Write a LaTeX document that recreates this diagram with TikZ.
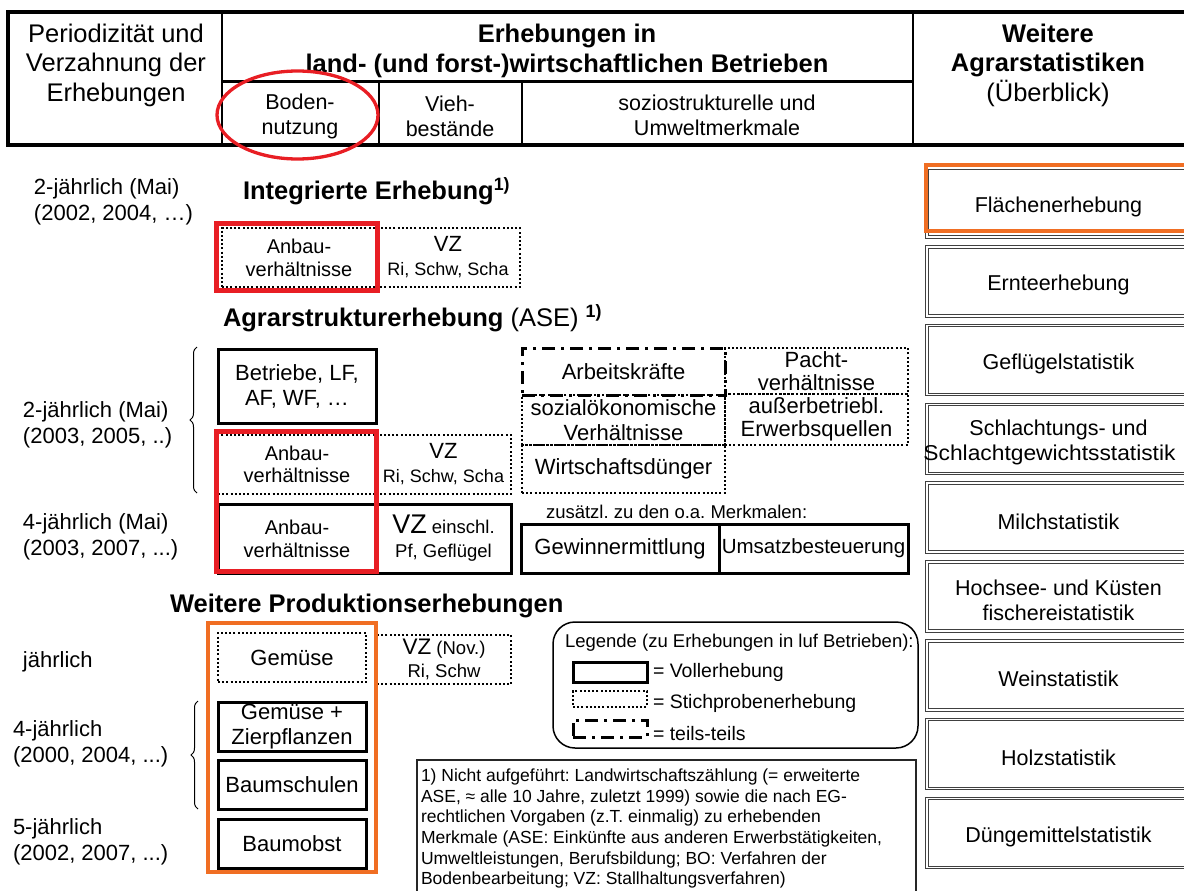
\documentclass[tikz,border=0pt]{standalone}
\usepackage{fontspec}
\setmainfont{Liberation Sans}
\usetikzlibrary{shapes.geometric, decorations.pathreplacing}
\definecolor{markred}{RGB}{232,30,36}
\definecolor{markorange}{RGB}{240,110,35}
\newcommand\fs[2]{\fontsize{#1pt}{#2pt}\selectfont}
\frenchspacing

\begin{document}
\begin{tikzpicture}[x=1pt, y=-1pt,
  every node/.style={inner sep=0pt, outer sep=0pt, align=center},
  txt/.style={font=\fs{21.5}{25}},
  heading/.style={anchor=west, font=\fs{25.5}{29}\bfseries},
  periodlabel/.style={anchor=west, align=left, font=\fs{22}{26}},
  fullbox/.style={draw, line width=3pt, txt},
  samplebox/.style={draw, line width=2.3pt, dash pattern=on 2pt off 2.2pt, txt},
  mixbox/.style={draw, line width=3pt, dash pattern=on 13pt off 6pt on 3pt off 6pt, txt},
  redframe/.style={draw=markred, line width=5pt},
  orangeframe/.style={draw=markorange, line width=3.5pt},
  statbox/.style={draw=black!75, double=white, double distance=1.6pt, line width=1pt,
                  minimum width=263pt, minimum height=69pt},
  stattext/.style={txt, yshift=-4pt},
  legtext/.style={anchor=west, font=\fs{19.5}{22}},
  bracket/.style={decorate, decoration={brace, amplitude=7pt}, line width=1pt},
  sz/.style 2 args={minimum width=#1pt, minimum height=#2pt},
]
\useasboundingbox (0,0) rectangle (1184,891);
\clip (0,0) rectangle (1184,891);

% ---------- table head ----------
\draw[line width=3.5pt] (8,12) rectangle (1190,145);
\draw[line width=2pt] (222,12) -- (222,145) (913,12) -- (913,145);
\draw[line width=3pt] (222,82) -- (913,82);
\draw[line width=1.5pt] (379,82) -- (379,145) (522,82) -- (522,145);

\node[font=\fs{25.5}{29.5}] (hperiod) at (116,65) {Periodizität und\\Verzahnung der\\Erhebungen};
\node[font=\fs{25.5}{30}\bfseries] (hsurvey) at (567,51) {Erhebungen in\\land- (und forst-)wirtschaftlichen Betrieben};
\node[font=\fs{25.5}{29.5}] (hother) at (1048,65) {\textbf{Weitere}\\\textbf{Agrarstatistiken}\\(Überblick)};
\node[txt] (hland) at (300,116) {Boden-\\nutzung};
\node[txt] (hlive) at (450,116) {Vieh-\\bestände};
\node[txt] (hsocio) at (717,115) {soziostrukturelle und\\Umweltmerkmale};
\node[draw=markred, line width=3.3pt, ellipse, sz={161}{88}] (hring) at (297.5,115) {};

% ---------- integrated survey ----------
\node[periodlabel] (p1) at (34,202) {2-jährlich (Mai)\\(2002, 2004, …)};
\node[heading] (hint) at (243,191) {Integrierte Erhebung\textsuperscript{1)}};
\node[samplebox, sz={154}{59}, font=\fs{20}{23}] (intland) at (299,257.5) {Anbau-\\verhältnisse};
\node[samplebox, sz={144}{59}, font=\fs{18}{24}] (intlive) at (448,257.5) {{\fs{22}{24}VZ}\\Ri, Schw, Scha};
\node[redframe, sz={161}{67}] (intmark) at (296.5,256.5) {};

% ---------- farm structure survey ----------
\node[heading] (hase) at (223,318) {Agrarstrukturerhebung \mdseries(ASE) \textsuperscript{\bfseries 1)}};
\draw[bracket] (197,493) -- (197,347);
\node[periodlabel] (p2) at (23,425) {2-jährlich (Mai)\\(2003, 2005, ..)};
\node[fullbox, sz={158}{74}, font=\fs{22}{25}] (farms) at (297,386) {Betriebe, LF,\\AF, WF, …};
\node[samplebox, sz={183}{46}, font=\fs{22}{23}] (lease) at (816.5,371) {Pacht-\\verhältnisse};
\node[samplebox, sz={203}{50}, font=\fs{22}{25}] (socio) at (623.5,420) {sozialökonomische\\Verhältnisse};
\node[samplebox, sz={183}{51}, font=\fs{22}{23}] (offfarm) at (816.5,419.5) {außerbetriebl.\\Erwerbsquellen};
\node[samplebox, sz={203}{48}, font=\fs{22}{25}] (manure) at (623.5,469) {Wirtschaftsdünger};
\node[mixbox, sz={203}{47}, font=\fs{22}{25}] (labour) at (623.5,371.5) {Arbeitskräfte};

\node[samplebox, sz={158}{59}, font=\fs{20}{22}] (aseland) at (297,464.5) {Anbau-\\verhältnisse};
\node[samplebox, sz={135}{59}, font=\fs{18}{24}] (aselive) at (443.5,464.5) {{\fs{22}{24}VZ}\\Ri, Schw, Scha};
\node[periodlabel] (p3) at (23,537) {4-jährlich (Mai)\\(2003, 2007, ...)};
\node[fullbox, sz={158}{69}, font=\fs{20}{23}] (fourland) at (297,538.5) {Anbau-\\verhältnisse};
\node[fullbox, sz={135}{69}, font=\fs{18.5}{24}] (fourlive) at (443.5,538.5) {{\fs{27}{24}VZ} einschl.\\Pf, Geflügel};
\node[redframe, sz={160}{140}] (asemark) at (296,501) {};

\node[anchor=west, font=\fs{18.5}{22}] (extra) at (546,512) {zusätzl. zu den o.a. Merkmalen:};
\node[fullbox, sz={198}{49}, font=\fs{22}{25}] (profit) at (620,548.5) {Gewinnermittlung};
\node[fullbox, sz={189}{49}, font=\fs{20.5}{25}] (vat) at (813.5,548.5) {Umsatzbesteuerung};

% ---------- further production surveys ----------
\node[heading] (hprod) at (170,606) {Weitere Produktionserhebungen};
\node[periodlabel] (p4) at (23,662) {jährlich};
\node[samplebox, sz={148}{49}, font=\fs{22}{25}] (veg) at (292,657.5) {Gemüse};
\node[samplebox, sz={134}{49}, font=\fs{18.5}{23}] (pigs) at (444,659.5) {{\fs{22.5}{23}VZ} (Nov.)\\Ri, Schw};
\node[periodlabel] (p5) at (13,744) {4-jährlich\\(2000, 2004, ...)};
\node[fullbox, sz={148}{49}, font=\fs{22}{25}] (vegorn) at (292,727) {Gemüse +\\Zierpflanzen};
\node[fullbox, sz={148}{49}, font=\fs{22}{25}] (nursery) at (292,784.5) {Baumschulen};
\draw[bracket] (198,809) -- (198,701);
\node[periodlabel] (p6) at (13,842) {5-jährlich\\(2002, 2007, ...)};
\node[fullbox, sz={148}{49}, font=\fs{22}{25}] (orchard) at (292,843.5) {Baumobst};
\node[orangeframe, sz={168}{249}] (prodmark) at (292,747.5) {};

% ---------- legend ----------
\node[draw, line width=1.5pt, rounded corners=22pt, sz={365}{126}] (legend) at (735.5,685) {};
\node[anchor=west, font=\fs{18.5}{22}] (legtitle) at (565,643) {Legende (zu Erhebungen in luf Betrieben):};
\node[fullbox, sz={74}{20}] (legfull) at (610,672) {};
\node[samplebox, line width=2pt, sz={74}{16}] (legsample) at (610,699) {};
\node[mixbox, sz={74}{17}] (legmix) at (610,728.5) {};
\node[legtext] (legfulltxt) at (653,672) {= Vollerhebung};
\node[legtext] (legsampletxt) at (653,703) {= Stichprobenerhebung};
\node[legtext] (legmixtxt) at (653,734) {= teils-teils};

% ---------- footnote ----------
\node[draw=black!85, line width=1.3pt, sz={499}{133}] (notebox) at (666.5,826.5) {};
\node[anchor=north west, align=left, font=\fs{17.5}{20.6}] (note) at (421,769) {1) Nicht aufgeführt: Landwirtschaftszählung (= erweiterte\\ASE, ≈ alle 10 Jahre, zuletzt 1999) sowie die nach EG-\\rechtlichen Vorgaben (z.T. einmalig) zu erhebenden\\Merkmale (ASE: Einkünfte aus anderen Erwerbstätigkeiten,\\Umweltleistungen, Berufsbildung; BO: Verfahren der\\Bodenbearbeitung; VZ: Stallhaltungsverfahren)};

% ---------- further agricultural statistics ----------
\node[statbox] (s1) at (1058.5,202.5) {};
\node[statbox] (s2) at (1058.5,281.3) {};
\node[statbox] (s3) at (1058.5,360.1) {};
\node[statbox] (s4) at (1058.5,438.9) {};
\node[statbox] (s5) at (1058.5,517.7) {};
\node[statbox] (s6) at (1058.5,596.5) {};
\node[statbox] (s7) at (1058.5,675.3) {};
\node[statbox] (s8) at (1058.5,754.1) {};
\node[statbox] (s9) at (1058.5,832.9) {};
\node[stattext] (s1t) at (s1.center) {Flächenerhebung};
\node[stattext] (s2t) at (s2.center) {Ernteerhebung};
\node[stattext] (s3t) at (s3.center) {Geflügelstatistik};
\node[stattext] (s4t) at (s4.center) {Schlachtungs- und\\\hspace*{-18pt}\scalebox{1.06}[1]{Schlachtgewichtsstatistik}};
\node[stattext] (s5t) at (s5.center) {Milchstatistik};
\node[stattext] (s6t) at (s6.center) {Hochsee- und Küsten\\fischereistatistik};
\node[stattext] (s7t) at (s7.center) {Weinstatistik};
\node[stattext] (s8t) at (s8.center) {Holzstatistik};
\node[stattext] (s9t) at (s9.center) {Düngemittelstatistik};
\node[orangeframe, sz={266}{66}] (s1mark) at (1059,198) {};
\end{tikzpicture}
\end{document}
